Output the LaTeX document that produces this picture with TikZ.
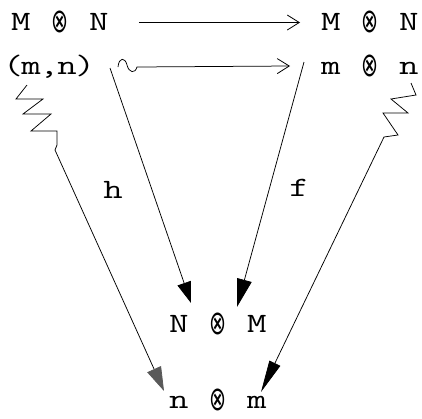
\documentclass[tikz,border=0pt]{standalone}
\usepackage{fontspec}
\setmonofont{Latin Modern Mono}[FakeStretch=1.35]
\newfontfamily\symfont{DejaVu Sans}
\usetikzlibrary{arrows.meta}
\newcommand\tens{\raisebox{-2.5pt}[14pt][0pt]{\resizebox*{17pt}{22pt}{\raisebox{\depth}{\symfont ⊗}}}}
\newcommand\cc[1]{\makebox[19.5pt]{#1}}
\newcommand\cs[1]{\makebox[18pt]{#1}}
\begin{document}
\begin{tikzpicture}[x=1pt,y=-1pt,
  lbl/.style={font=\ttfamily\fontsize{28}{28}\selectfont, inner sep=0pt, anchor=base west},
  tag/.style={font=\ttfamily\fontsize{28}{28}\selectfont, inner sep=0pt},
  conn/.style={line width=0.75pt, line join=miter},
  barb/.style={-{Straight Barb[length=12pt,width=15pt,line width=0.8pt]}},
  headh/.style={-{Triangle[length=21pt,width=14pt]}},
  headf/.style={-{Triangle[length=28pt,width=15pt]}},
  headl/.style={-{Triangle[length=24pt,width=15pt,fill=black!65,color=black!65]}},
  headr/.style={-{Triangle[length=32pt,width=12pt]}}]
\useasboundingbox (0,0) rectangle (422,418);
% objects
\node[lbl] (a) at (11,30) {\cc{M}\cc{}\cc{\tens}\cc{}\cc{N}};
\node[lbl] (b) at (321,30) {\cc{M}\cc{}\cc{\tens}\cc{}\cc{N}};
\node[lbl] (c) at (4,74) {\cs{(}\cs{m}\cs{,}\cs{n}\cs{)}};
\node[lbl] (d) at (321,74) {\cc{m}\cc{}\cc{\tens}\cc{}\cc{n}};
\node[lbl] (e) at (169,332) {\cc{N}\cc{}\cc{\tens}\cc{}\cc{M}};
\node[lbl] (g) at (169,408) {\cc{n}\cc{}\cc{\tens}\cc{}\cc{m}};
% labels
\node[tag] (hl) at (113,190) {h};
\node[tag] (fl) at (299,188) {f};
% top arrow
\draw[conn,barb] ([shift={(30,-7.5)}]a.base east) -- ([shift={(-21,-7.5)}]b.base west);
% second arrow with tilde tail
\coordinate (s) at ([shift={(114,-7)}]c.base west);
\draw[conn,barb] (s) .. controls ([shift={(1,-10)}]s) and ([shift={(7,-10)}]s) .. ([shift={(9,-2)}]s)
  .. controls ([shift={(11,6)}]s) and ([shift={(17,7)}]s) .. ([shift={(19,0)}]s)
  -- ([shift={(-31,-8)}]d.base west);
% h and f
\draw[conn,headh] ([shift={(106,-6)}]c.base west) -- ([shift={(22,-29)}]e.base west);
\draw[conn,headf] ([shift={(-17,-12)}]d.base west) -- ([shift={(68,-25)}]e.base west);
% left zigzag
\draw[conn,headl] ([shift={(23,11)}]c.base west) -- ++(-11,14) -- ++(27,0) -- ++(-20,15) -- ++(28,0)
  -- ++(-20,17) -- ++(26,0) -- ++(0,14) -- ++(-2,5) -- ([shift={(-5,-17)}]g.base west);
% right zigzag
\draw[conn,headr] ([shift={(90,9)}]d.base west) -- ++(5,12) -- ++(-25,4) -- ++(17,14) -- ++(-25,0)
  -- ++(15,22) -- ++(-14,2) -- ([shift={(92,-16)}]g.base west);
\end{tikzpicture}
\end{document}
